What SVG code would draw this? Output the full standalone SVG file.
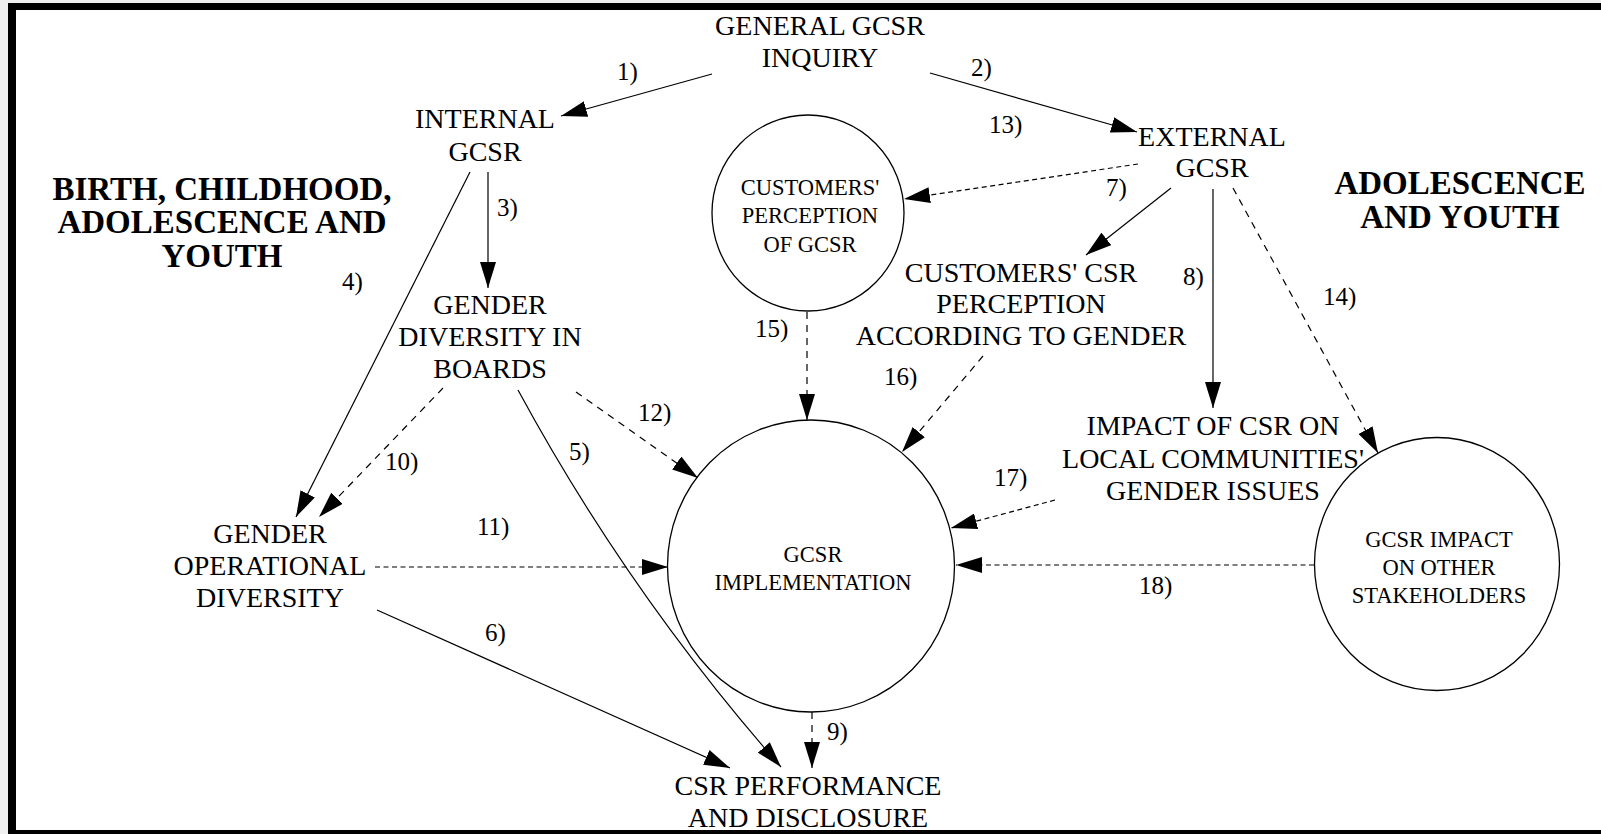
<svg xmlns="http://www.w3.org/2000/svg" width="1601" height="834" viewBox="0 0 1601 834">
<style>
text{font-family:"Liberation Serif","Times New Roman",serif;fill:#000;}
.lbl{font-size:28px;text-anchor:middle;}
.sm{font-size:22.5px;text-anchor:middle;}
.big{font-size:33px;font-weight:bold;text-anchor:middle;}
.num{font-size:25px;}
.node{fill:#fff;stroke:#000;stroke-width:1.3;}
.c{fill:none;stroke:#000;stroke-width:1.2;marker-end:url(#ah);}
.d1{stroke-dasharray:5,3.5;}
.d2{stroke-dasharray:7,6;}
</style>
<defs>
<marker id="ah" markerUnits="userSpaceOnUse" viewBox="0 0 26 16" refX="26" refY="8" markerWidth="26" markerHeight="16" orient="auto">
<path d="M0,0 L26,8 L0,16 z" fill="#000"/>
</marker>
</defs>
<rect x="0" y="0" width="1601" height="834" fill="#f0f0f0"/>
<rect x="8" y="3" width="1593" height="831" fill="#000"/>
<rect x="16" y="10" width="1585" height="820" fill="#fff"/>

<g id="connectors">
<path class="c" d="M712,74 L561,116"/>
<path class="c" d="M930,73 L1137,132"/>
<path class="c" d="M488,172 L488,288"/>
<path class="c" d="M470,172 L296,517"/>
<path class="c d2" d="M443,388 L319,517"/>
<path class="c" d="M518,390 Q628,593 781,767"/>
<path class="c" d="M377,610 L730,768"/>
<path class="c d2" d="M812,712 L812,768"/>
<path class="c d1" d="M375,567 L668,567"/>
<path class="c d2" d="M576,392 L698,478"/>
<path class="c d2" d="M807,312 L807,420"/>
<path class="c d2" d="M983,356 L902,452"/>
<path class="c d1" d="M1138,164 L904,199"/>
<path class="c" d="M1171,188 L1086,255"/>
<path class="c" d="M1213,189 L1213,408"/>
<path class="c d2" d="M1233,188 L1378,453"/>
<path class="c d1" d="M1055,500 L951,528"/>
<path class="c d1" d="M1314,565 L956,565"/>
</g>

<g id="labels">
<text class="num" x="617" y="80">1)</text>
<text class="num" x="971" y="76">2)</text>
<text class="num" x="497" y="216">3)</text>
<text class="num" x="342" y="290">4)</text>
<text class="num" x="569" y="460">5)</text>
<text class="num" x="485" y="641">6)</text>
<text class="num" x="1106" y="196">7)</text>
<text class="num" x="1183" y="285">8)</text>
<text class="num" x="827" y="740">9)</text>
<text class="num" x="385" y="470">10)</text>
<text class="num" x="477" y="535">11)</text>
<text class="num" x="638" y="421">12)</text>
<text class="num" x="989" y="133">13)</text>
<text class="num" x="1323" y="305">14)</text>
<text class="num" x="755" y="337">15)</text>
<text class="num" x="884" y="385">16)</text>
<text class="num" x="994" y="486">17)</text>
<text class="num" x="1139" y="594">18)</text>
</g>

<g id="stage-left">
<text class="big" x="222" y="200">BIRTH, CHILDHOOD,</text>
<text class="big" x="222" y="233">ADOLESCENCE AND</text>
<text class="big" x="222" y="267">YOUTH</text>
</g>
<g id="stage-right">
<text class="big" x="1460" y="194">ADOLESCENCE</text>
<text class="big" x="1460" y="228">AND YOUTH</text>
</g>

<g id="general">
<text class="lbl" x="820" y="35">GENERAL GCSR</text>
<text class="lbl" x="820" y="67">INQUIRY</text>
</g>
<g id="internal">
<text class="lbl" x="485" y="128">INTERNAL</text>
<text class="lbl" x="485" y="161">GCSR</text>
</g>
<g id="external">
<text class="lbl" x="1212" y="146">EXTERNAL</text>
<text class="lbl" x="1212" y="177">GCSR</text>
</g>
<g id="customers-perception">
<ellipse class="node" cx="808" cy="213" rx="96" ry="98"/>
<text class="sm" x="810" y="195">CUSTOMERS'</text>
<text class="sm" x="810" y="223">PERCEPTION</text>
<text class="sm" x="810" y="252">OF GCSR</text>
</g>
<g id="customers-csr">
<text class="lbl" x="1021" y="282">CUSTOMERS' CSR</text>
<text class="lbl" x="1021" y="313">PERCEPTION</text>
<text class="lbl" x="1021" y="345">ACCORDING TO GENDER</text>
</g>
<g id="boards">
<text class="lbl" x="490" y="314">GENDER</text>
<text class="lbl" x="490" y="346">DIVERSITY IN</text>
<text class="lbl" x="490" y="378">BOARDS</text>
</g>
<g id="operational">
<text class="lbl" x="270" y="543">GENDER</text>
<text class="lbl" x="270" y="575">OPERATIONAL</text>
<text class="lbl" x="270" y="607">DIVERSITY</text>
</g>
<g id="implementation">
<ellipse class="node" cx="811" cy="566" rx="143.5" ry="146"/>
<text class="sm" x="813" y="562">GCSR</text>
<text class="sm" x="813" y="590">IMPLEMENTATION</text>
</g>
<g id="local">
<text class="lbl" x="1213" y="435">IMPACT OF CSR ON</text>
<text class="lbl" x="1213" y="468">LOCAL COMMUNITIES'</text>
<text class="lbl" x="1213" y="500">GENDER ISSUES</text>
</g>
<g id="stakeholders">
<ellipse class="node" cx="1437" cy="564" rx="122.5" ry="126.5"/>
<text class="sm" x="1439" y="547">GCSR IMPACT</text>
<text class="sm" x="1439" y="575">ON OTHER</text>
<text class="sm" x="1439" y="603">STAKEHOLDERS</text>
</g>
<g id="performance">
<text class="lbl" x="808" y="795">CSR PERFORMANCE</text>
<text class="lbl" x="808" y="827">AND DISCLOSURE</text>
</g>
</svg>
